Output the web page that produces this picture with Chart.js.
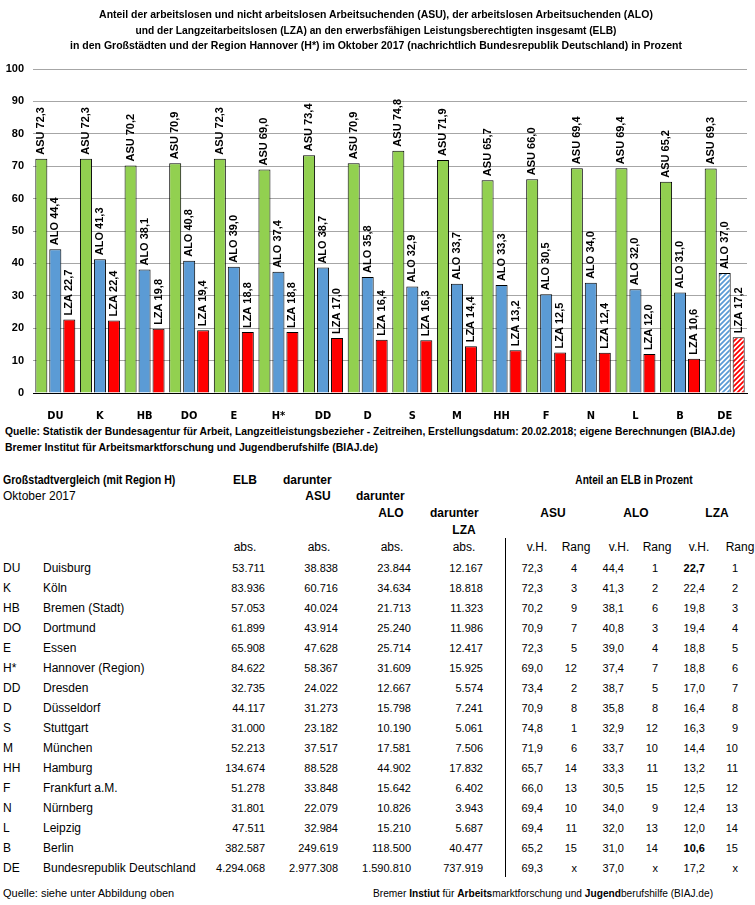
<!DOCTYPE html>
<html>
<head>
<meta charset="utf-8">
<script src="https://cdn.jsdelivr.net/npm/chart.js@4.4.1/dist/chart.umd.min.js"></script>
<style>
  body { margin: 0; background: #fff; }
  #page { position: relative; width: 755px; height: 905px; overflow: hidden; font-family: "Liberation Sans", Arial, sans-serif; color: #000; }
  #chart { position: absolute; left: 0; top: 0; }
  .t { position: absolute; white-space: nowrap; line-height: 14px; font-size: 12px; }
  .num { font-size: 11px; }
  .narrow { font-weight: bold; font-size: 11.5px; }
  .b { font-weight: bold; }
  #vline { position: absolute; left: 505px; top: 538px; width: 1px; height: 339px; background: #000; }
</style>
</head>
<body>
<div id="page">
  <canvas id="chart" width="755" height="420"></canvas>
  <div id="vline"></div>
</div>
<script>
const categories = ['DU', 'K', 'HB', 'DO', 'E', 'H*', 'DD', 'D', 'S', 'M', 'HH', 'F', 'N', 'L', 'B', 'DE'];
const asuShare = [72.3, 72.3, 70.2, 70.9, 72.3, 69.0, 73.4, 70.9, 74.8, 71.9, 65.7, 66.0, 69.4, 69.4, 65.2, 69.3];
const aloShare = [44.4, 41.3, 38.1, 40.8, 39.0, 37.4, 38.7, 35.8, 32.9, 33.7, 33.3, 30.5, 34.0, 32.0, 31.0, 37.0];
const lzaShare = [22.7, 22.4, 19.8, 19.4, 18.8, 18.8, 17.0, 16.4, 16.3, 14.4, 13.2, 12.5, 12.4, 12.0, 10.6, 17.2];

const cityNames = ['Duisburg', 'Köln', 'Bremen (Stadt)', 'Dortmund', 'Essen', 'Hannover (Region)', 'Dresden', 'Düsseldorf',
  'Stuttgart', 'München', 'Hamburg', 'Frankfurt a.M.', 'Nürnberg', 'Leipzig', 'Berlin', 'Bundesrepublik Deutschland'];
const elbAbs = ['53.711', '83.936', '57.053', '61.899', '65.908', '84.622', '32.735', '44.117', '31.000', '52.213', '134.674', '51.278', '31.801', '47.511', '382.587', '4.294.068'];
const asuAbs = ['38.838', '60.716', '40.024', '43.914', '47.628', '58.367', '24.022', '31.273', '23.182', '37.517', '88.528', '33.848', '22.079', '32.984', '249.619', '2.977.308'];
const aloAbs = ['23.844', '34.634', '21.713', '25.240', '25.714', '31.609', '12.667', '15.798', '10.190', '17.581', '44.902', '15.642', '10.826', '15.210', '118.500', '1.590.810'];
const lzaAbs = ['12.167', '18.818', '11.323', '11.986', '12.417', '15.925', '5.574', '7.241', '5.061', '7.506', '17.832', '6.402', '3.943', '5.687', '40.477', '737.919'];
const asuRank = ['4', '3', '9', '7', '5', '12', '2', '8', '1', '6', '14', '13', '10', '11', '15', 'x'];
const aloRank = ['1', '2', '6', '3', '4', '7', '5', '8', '12', '10', '11', '15', '9', '13', '14', 'x'];
const lzaRank = ['1', '2', '3', '4', '5', '6', '7', '8', '9', '10', '11', '12', '13', '14', '15', 'x'];

const titleLines = [
  'Anteil der arbeitslosen und nicht arbeitslosen Arbeitsuchenden  (ASU), der arbeitslosen Arbeitsuchenden  (ALO)',
  'und der Langzeitarbeitslosen (LZA) an den erwerbsfähigen Leistungsberechtigten  insgesamt (ELB)',
  'in den Großstädten und der Region Hannover (H*) im Oktober 2017 (nachrichtlich Bundesrepublik Deutschland) in Prozent'
];
const titleWidths = [554, 481, 612];

const GREEN = '#92d050';
const BLUE = '#5b9bd5';
const RED = '#ff0000';

const page = document.getElementById('page');

// place a text at x (left / right / center anchor) with y as vertical middle
const put = (html, x, y, align, cls) => {
  const el = document.createElement('div');
  el.className = 't' + (cls ? ' ' + cls : '');
  el.innerHTML = html;
  el.style.left = x + 'px';
  el.style.top = (y - 7) + 'px';
  if (align === 'right') el.style.transform = 'translateX(-100%)';
  if (align === 'center') el.style.transform = 'translateX(-50%)';
  page.appendChild(el);
  return el;
};

// squeeze a text horizontally to the width it has in the original (condensed font)
const fit = (el, width, align) => {
  const k = width / el.offsetWidth;
  if (align === 'center') {
    el.style.transformOrigin = 'center';
    el.style.transform = `translateX(-50%) scaleX(${k})`;
  } else {
    el.style.transformOrigin = 'left';
    el.style.transform = `scaleX(${k})`;
  }
};

const fmt = (v) => v.toFixed(1).replace('.', ',');

const canvas = document.getElementById('chart');
const ctx = canvas.getContext('2d');

const hatch = (color) => {
  const c = document.createElement('canvas');
  c.width = 5; c.height = 5;
  const g = c.getContext('2d');
  g.fillStyle = '#fff';
  g.fillRect(0, 0, 5, 5);
  g.strokeStyle = color;
  g.lineWidth = 1.8;
  g.beginPath();
  g.moveTo(-1, 6); g.lineTo(6, -1);
  g.moveTo(-1, 1); g.lineTo(1, -1);
  g.moveTo(4, 6); g.lineTo(6, 4);
  g.stroke();
  return ctx.createPattern(c, 'repeat');
};

const last = categories.length - 1;
const blueFill = categories.map((c, i) => i === last ? hatch(BLUE) : BLUE);
const redFill = categories.map((c, i) => i === last ? hatch(RED) : RED);

// rotated value labels above each bar
const barLabels = {
  id: 'barLabels',
  afterDatasetsDraw(chart) {
    const c = chart.ctx;
    c.save();
    c.font = 'bold 11px "Liberation Sans", Arial, sans-serif';
    c.fillStyle = '#000';
    c.textAlign = 'left';
    c.textBaseline = 'middle';
    chart.data.datasets.forEach((ds, i) => {
      chart.getDatasetMeta(i).data.forEach((bar, j) => {
        c.save();
        c.translate(bar.x, bar.y - 4);
        c.rotate(-Math.PI / 2);
        c.fillText(ds.label + ' ' + fmt(ds.data[j]), 0, 0);
        c.restore();
      });
    });
    c.restore();
  }
};

new Chart(canvas, {
  type: 'bar',
  data: {
    labels: categories,
    datasets: [
      { label: 'ASU', data: asuShare, backgroundColor: GREEN },
      { label: 'ALO', data: aloShare, backgroundColor: blueFill },
      { label: 'LZA', data: lzaShare, backgroundColor: redFill }
    ]
  },
  options: {
    responsive: false,
    animation: false,
    devicePixelRatio: 1,
    layout: { padding: { top: 69, right: 8, left: 0, bottom: 0 } },
    datasets: {
      bar: {
        borderColor: '#000',
        borderWidth: 1,
        categoryPercentage: 0.94,
        barPercentage: 0.86
      }
    },
    plugins: {
      legend: { display: false },
      tooltip: { enabled: false },
      title: { display: false }
    },
    scales: {
      x: {
        grid: { display: false },
        border: { display: true, color: '#000', width: 1 },
        ticks: {
          color: '#000',
          padding: 9,
          font: { family: '"DejaVu Sans Condensed", "Liberation Sans", sans-serif', weight: 'bold', size: 11 }
        },
        afterFit: (s) => { s.height = 27; }
      },
      y: {
        min: 0,
        max: 100,
        grid: { color: '#a6a6a6', drawTicks: false },
        border: { display: false },
        ticks: {
          stepSize: 10,
          color: '#000',
          padding: 9,
          font: { family: '"Liberation Sans", Arial, sans-serif', weight: 'bold', size: 11 }
        },
        afterFit: (s) => { s.width = 33; }
      }
    }
  },
  plugins: [barLabels]
});

// title and source lines
titleLines.forEach((line, i) => fit(put(line, 376, 14 + i * 15.5, 'center', 'narrow'), titleWidths[i], 'center'));
fit(put('Quelle: Statistik der Bundesagentur für Arbeit, Langzeitleistungsbezieher - Zeitreihen, Erstellungsdatum: 20.02.2018; eigene Berechnungen (BIAJ.de)', 5, 431, 'left', 'narrow'), 730);
fit(put('Bremer Institut für Arbeitsmarktforschung und Jugendberufshilfe (BIAJ.de)', 5, 447, 'left', 'narrow'), 373);

// table header
fit(put('Großstadtvergleich (mit Region H)', 3, 480, 'left', 'b'), 172);
put('Oktober 2017', 3, 496);
put('ELB', 245, 480, 'center', 'b');
put('darunter', 283, 480, 'left', 'b');
put('ASU', 318, 496, 'center', 'b');
put('darunter', 356, 496, 'left', 'b');
put('ALO', 391, 513, 'center', 'b');
put('darunter', 430, 513, 'left', 'b');
put('LZA', 464, 530, 'center', 'b');
fit(put('Anteil an ELB in Prozent', 634, 480, 'center', 'b'), 117, 'center');
put('ASU', 553, 513, 'center', 'b');
put('ALO', 636, 513, 'center', 'b');
put('LZA', 717, 513, 'center', 'b');
[245, 319, 392, 464].forEach((x) => put('abs.', x, 547, 'center'));
put('v.H.', 537, 547, 'center');
put('Rang', 576, 547, 'center');
put('v.H.', 619, 547, 'center');
put('Rang', 657, 547, 'center');
put('v.H.', 699, 547, 'center');
put('Rang', 740, 547, 'center');

// table rows
categories.forEach((code, i) => {
  const y = 568 + i * 20;
  put(code, 3, y);
  put(cityNames[i], 43, y);
  put(elbAbs[i], 265, y, 'right', 'num');
  put(asuAbs[i], 338, y, 'right', 'num');
  put(aloAbs[i], 411, y, 'right', 'num');
  put(lzaAbs[i], 483, y, 'right', 'num');
  put(fmt(asuShare[i]), 543, y, 'right', 'num');
  put(asuRank[i], 577, y, 'right', 'num');
  put(fmt(aloShare[i]), 624, y, 'right', 'num');
  put(aloRank[i], 658, y, 'right', 'num');
  put(fmt(lzaShare[i]), 705, y, 'right', (lzaRank[i] === '1' || lzaRank[i] === '15') ? 'num b' : 'num');
  put(lzaRank[i], 738, y, 'right', 'num');
});

put('Quelle: siehe unter Abbildung oben', 3, 893, 'left', 'num');
fit(put('Bremer <b>Instiut</b> für <b>Arbeits</b>marktforschung und <b>Jugend</b>berufshilfe (BIAJ.de)', 373, 893, 'left', 'num'), 340);
</script>
</body>
</html>
